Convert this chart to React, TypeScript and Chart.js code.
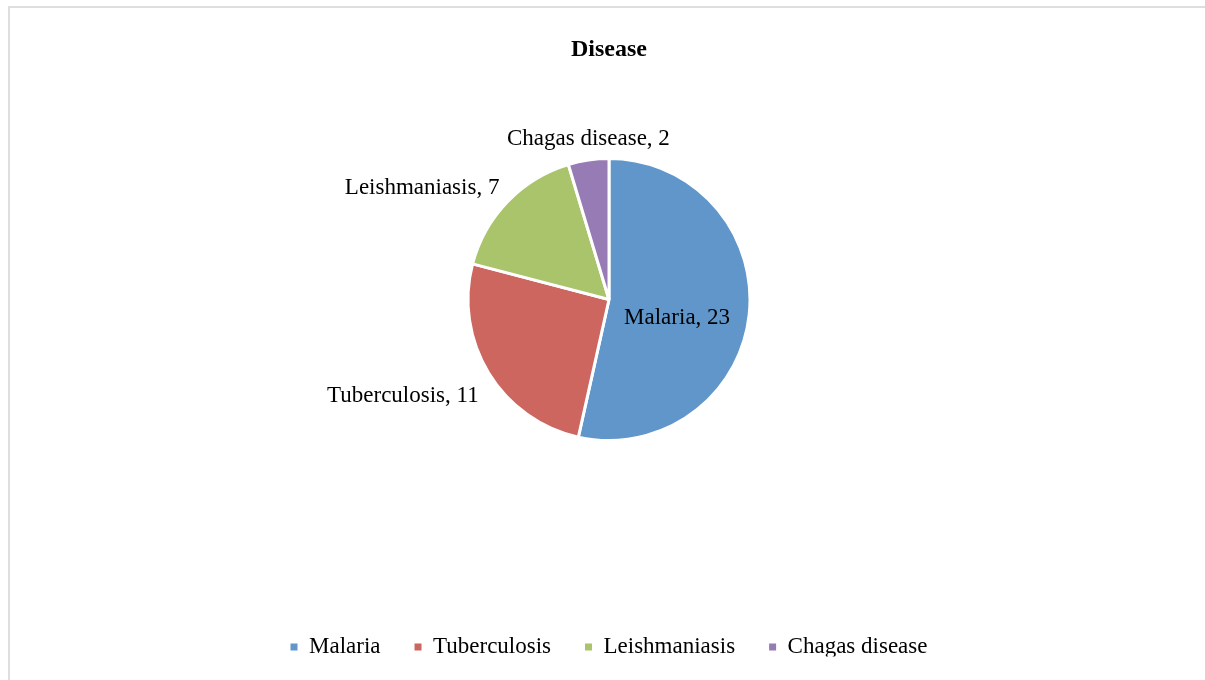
import React, { useEffect, useRef } from "react";
import { Chart, registerables } from "chart.js";

Chart.register(...registerables);

const chartTitle = "Disease";
const categories = ["Malaria", "Tuberculosis", "Leishmaniasis", "Chagas disease"];
const values = [23, 11, 7, 2];
const colors = ["#6096CA", "#CD665F", "#A9C46B", "#977BB4"];

const FONT = "'Liberation Serif', 'Times New Roman', serif";

// Shrinks the pie's layout box from below so the pie sits higher, as in the reference.
const pieArea = {
  id: "pieArea",
  afterLayout(chart: any) {
    const ca = chart.chartArea;
    const trim = 34;
    ca.bottom -= trim;
    ca.height -= trim;
  },
};

const sliceLabels = {
  id: "sliceLabels",
  afterDatasetsDraw(chart: any) {
    const ctx = chart.ctx;
    const meta = chart.getDatasetMeta(0);
    const data = chart.data.datasets[0].data as number[];
    const labels = chart.data.labels as string[];
    ctx.save();
    ctx.font = `23px ${FONT}`;
    ctx.fillStyle = "#000";
    meta.data.forEach((arc: any, i: number) => {
      const { x, y, startAngle, endAngle, outerRadius } = arc.getProps(
        ["x", "y", "startAngle", "endAngle", "outerRadius"],
        true
      );
      const mid = (startAngle + endAngle) / 2;
      const c = Math.cos(mid);
      const s = Math.sin(mid);
      const text = `${labels[i]}, ${data[i]}`;
      const frac = (endAngle - startAngle) / (2 * Math.PI);
      ctx.textBaseline = "middle";
      if (frac > 0.4) {
        ctx.textAlign = "center";
        ctx.fillText(text, x + c * outerRadius * 0.5 - 2, y + s * outerRadius * 0.5 + 11);
      } else {
        const d = outerRadius + 14;
        const px = x + c * d;
        const py = y + s * d;
        const vertical = Math.abs(c) < 0.3;
        ctx.textAlign = vertical ? "center" : c < 0 ? "right" : "left";
        const ty = py + (s > 0 ? 11 : -11) + (vertical ? 4 : 5) + (!vertical && s < 0 ? 2 : 0);
        ctx.fillText(text, px + 2, ty);
      }
    });
    ctx.restore();
  },
};

export default function App() {
  const ref = useRef<HTMLCanvasElement | null>(null);

  useEffect(() => {
    if (!ref.current) return;
    const baseGen = (Chart as any).overrides.pie.plugins.legend.labels.generateLabels;
    const chart = new Chart(ref.current, {
      type: "pie",
      data: {
        labels: categories,
        datasets: [
          {
            data: values,
            backgroundColor: colors,
            borderColor: "#ffffff",
            borderWidth: 3,
            radius: 141,
          } as any,
        ],
      },
      options: {
        animation: false,
        responsive: false,
        maintainAspectRatio: false,
        layout: { padding: { top: 0, bottom: 0, left: 3, right: 0 } },
        plugins: {
          title: {
            display: true,
            text: chartTitle,
            color: "#000",
            font: { family: FONT, size: 24, weight: "bold" },
            padding: { top: 27.7, bottom: -80 },
          },
          legend: {
            display: true,
            position: "bottom",
            maxHeight: 55,
            labels: {
              color: "#000",
              font: { family: FONT, size: 23 },
              boxWidth: 7,
              boxHeight: 7,
              padding: 34,
              generateLabels: (c: any) =>
                baseGen(c).map((l: any) => ({ ...l, lineWidth: 0, strokeStyle: "rgba(0,0,0,0)" })),
            },
          },
          tooltip: { enabled: false },
        },
      },
      plugins: [pieArea, sliceLabels],
    });
    return () => chart.destroy();
  }, []);

  return (
    <div
      style={{
        position: "absolute",
        left: 8,
        top: 6,
        width: 1197,
        height: 674,
        borderTop: "2px solid #dedede",
        borderLeft: "2px solid #dedede",
        boxSizing: "border-box",
        background: "#fff",
      }}
    >
      <canvas ref={ref} width={1195} height={672} style={{ display: "block" }} />
    </div>
  );
}
